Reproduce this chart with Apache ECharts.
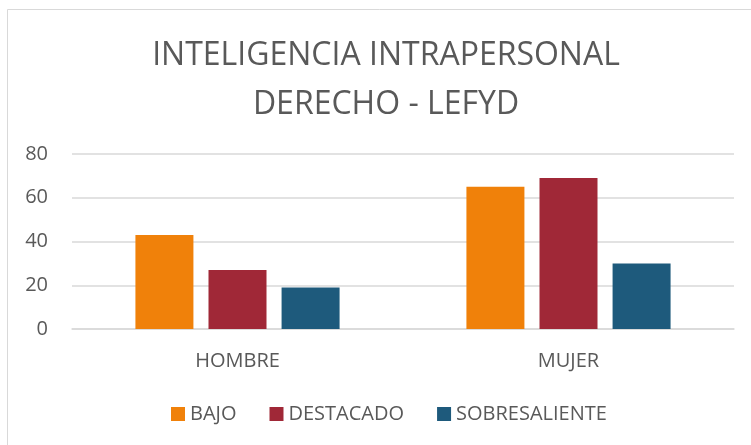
<!DOCTYPE html>
<html>
<head>
<meta charset="utf-8">
<script src="https://cdn.jsdelivr.net/npm/echarts@6/dist/echarts.min.js"></script>
<style>
html,body{margin:0;padding:0;background:#fff;}
#chart{width:751px;height:445px;}
</style>
</head>
<body>
<div id="chart"></div>
<script>
const categories = ['HOMBRE', 'MUJER'];
const seriesNames = ['BAJO', 'DESTACADO', 'SOBRESALIENTE'];
const bajo = [43, 65];
const destacado = [27, 69];
const sobresaliente = [19, 30];
const yTicks = [0, 20, 40, 60, 80];
const titleLines = ['INTELIGENCIA INTRAPERSONAL', 'DERECHO - LEFYD'];

const colors = ['#F0810A', '#A02837', '#1E5A7C'];
const textColor = '#595959';
const font = '"Open Sans", "Liberation Sans", sans-serif';

const chart = echarts.init(document.getElementById('chart'), null, {renderer: 'canvas'});
const values = [bajo, destacado, sobresaliente];

chart.setOption({
  animation: false,
  backgroundColor: '#fff',
  graphic: [{
    type: 'rect',
    shape: {x: 7.5, y: 9.5, width: 800, height: 500},
    style: {fill: 'none', stroke: '#D9D9D9', lineWidth: 1},
    silent: true
  }],
  title: {
    text: titleLines.join('\n'),
    left: 386,
    textAlign: 'center',
    top: 31,
    padding: 0,
    textStyle: {
      fontFamily: font,
      fontSize: 32,
      fontWeight: 'normal',
      color: textColor,
      lineHeight: 49
    }
  },
  legend: {
    data: seriesNames,
    left: 171,
    top: 404,
    padding: 0,
    itemWidth: 14,
    itemHeight: 14,
    itemGap: 33,
    icon: 'rect',
    textStyle: {fontFamily: font, fontSize: 20, color: textColor, lineHeight: 20}
  },
  grid: {left: 72, right: 17, top: 154, bottom: 116, containLabel: false},
  xAxis: {
    type: 'category',
    data: categories,
    axisLine: {lineStyle: {color: '#D9D9D9', width: 1.5}},
    axisTick: {show: false},
    axisLabel: {fontFamily: font, fontSize: 20, color: textColor, margin: 22}
  },
  yAxis: {
    type: 'value',
    min: yTicks[0],
    max: yTicks[yTicks.length - 1],
    interval: yTicks[1] - yTicks[0],
    axisLine: {show: false},
    axisTick: {show: false},
    splitLine: {lineStyle: {color: '#D9D9D9', width: 1.5}},
    axisLabel: {fontFamily: font, fontSize: 20, color: textColor, margin: 24}
  },
  series: seriesNames.map((name, i) => ({
    name: name,
    type: 'bar',
    data: values[i],
    barWidth: 58,
    barGap: '26%',
    itemStyle: {color: colors[i]}
  }))
});
</script>
</body>
</html>
